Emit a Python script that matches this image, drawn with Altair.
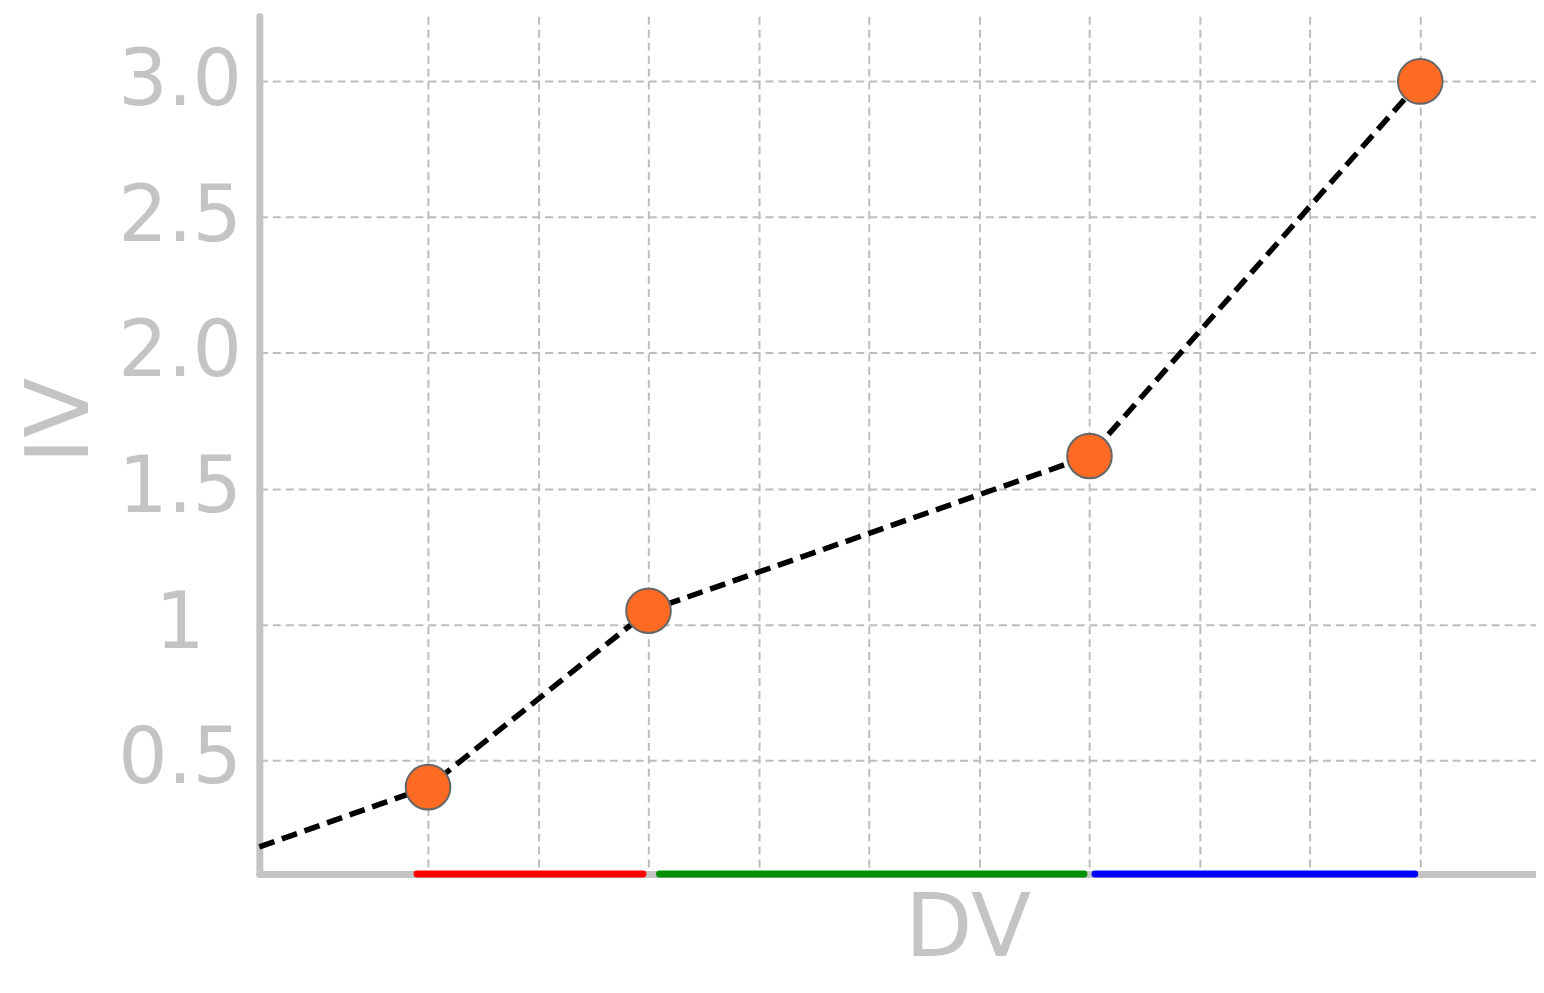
import altair as alt
import pandas as pd

# line (starts at the origin corner) and measured points
line_x = [-0.53, 1, 3, 7, 10]
line_y = [0.18, 0.40, 1.05, 1.62, 3.00]
pt_x = [1, 3, 7, 10]
pt_y = [0.40, 1.05, 1.62, 3.00]

seg_start = [0.9, 3.1, 7.05]
seg_end = [2.95, 6.95, 9.95]
seg_color = ["#ff0000", "#009000", "#0000ff"]
seg_name = ["a", "b", "c"]

y_ticks = [0.5, 1.0, 1.5, 2.0, 2.5, 3.0]
x_ticks = [1, 2, 3, 4, 5, 6, 7, 8, 9, 10]

X_DOM = [-0.53, 11.05]
Y_DOM = [0.08, 3.24]

line_df = pd.DataFrame({"x": line_x, "y": line_y})
pt_df = pd.DataFrame({"x": pt_x, "y": pt_y})
seg_df = pd.DataFrame({"x": seg_start, "x2": seg_end, "y": [Y_DOM[0]] * 3,
                       "c": seg_color, "n": seg_name})

GRAY = "#c4c4c4"
FONT = "DejaVu Sans"

xs = alt.Scale(domain=X_DOM, nice=False, zero=False)
ys = alt.Scale(domain=Y_DOM, nice=False, zero=False)

x_axis = alt.Axis(values=x_ticks, labels=False, ticks=False, tickSize=0,
                  grid=True, gridDash=[8, 5], gridColor="#bdbdbd", gridWidth=2,
                  domainColor=GRAY, domainWidth=7, domainCap="round",
                  title="DV", titleFont=FONT, titleFontSize=88,
                  titleFontWeight="normal", titleColor=GRAY,
                  titleX=710, titleY=12, titleAlign="center", titleBaseline="top")
y_axis = alt.Axis(values=y_ticks, ticks=False, tickSize=0, grid=True,
                  gridDash=[8, 5], gridColor="#bdbdbd", gridWidth=2,
                  domainColor=GRAY, domainWidth=7, domainCap="round",
                  labelFont=FONT, labelFontSize=78, labelColor=GRAY,
                  labelAlign="center", labelBaseline="middle", labelPadding=80,
                  labelExpr="datum.value == 1 ? '1' : format(datum.value, '.1f')",
                  title="IV", titleFont=FONT, titleFontSize=88,
                  titleFontWeight="normal", titleColor=GRAY, titleAngle=-90,
                  titleX=-198, titleY=405, titleAlign="center",
                  titleBaseline="middle")

base_line = alt.Chart(line_df).mark_line(
    color="black", strokeWidth=5.5, strokeDash=[16, 8]
).encode(x=alt.X("x:Q", scale=xs, axis=x_axis),
         y=alt.Y("y:Q", scale=ys, axis=y_axis))

segs = alt.Chart(seg_df).mark_rule(strokeWidth=7, strokeCap="round", clip=False).encode(
    x=alt.X("x:Q", scale=xs), x2="x2:Q", y=alt.Y("y:Q", scale=ys),
    color=alt.Color("c:N", scale=None, legend=None))

points = alt.Chart(pt_df).mark_point(
    filled=True, fill="#ff6b22", stroke="#666666", strokeWidth=2,
    size=2000, opacity=1, shape="circle"
).encode(x=alt.X("x:Q", scale=xs), y=alt.Y("y:Q", scale=ys))

chart = alt.layer(base_line, segs, points).properties(
    width=1280, height=860,
    autosize=alt.AutoSizeParams(type="none"),
    padding={"left": 252, "top": 7, "right": 0, "bottom": 118},
).configure_view(stroke=None)

chart.save("out.html", embed_options={"renderer": "svg", "actions": False})
